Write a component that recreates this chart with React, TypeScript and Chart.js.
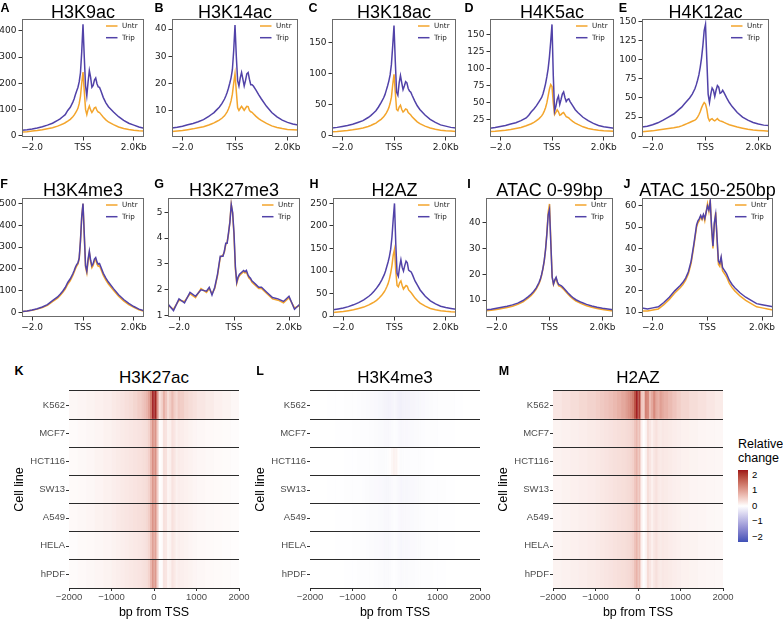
import React, { useEffect, useRef } from 'react';
import { Chart, registerables } from 'chart.js';

Chart.register(...registerables);

// ---------------- DATA ----------------
const LINE_X = [-2400, -2200, -2000, -1800, -1600, -1400, -1200, -1000, -900, -800, -700, -600, -500, -400, -350, -300, -250, -200, -150, -100, -50, 0, 50, 100, 150, 200, 250, 300, 350, 400, 450, 500, 550, 600, 650, 700, 800, 900, 1000, 1200, 1400, 1600, 1800, 2000, 2200, 2400];
const X_TICK_VALUES = [-2000, 0, 2000];
const X_TICK_LABELS = ['\u22122.0', 'TSS', '2.0Kb'];
const SERIES_NAMES = ['Untr', 'Trip'];

const A_UNTR = [14, 15, 17, 19, 22, 26, 30, 36, 40, 44, 49, 55, 62, 72, 78, 86, 94, 104, 122, 150, 200, 243, 170, 100, 80, 100, 113, 98, 88, 96, 106, 108, 96, 90, 88, 82, 70, 60, 52, 42, 33, 27, 23, 20, 18, 17];
const A_TRIP = [20, 22, 25, 29, 34, 40, 47, 58, 64, 72, 80, 96, 108, 128, 140, 156, 170, 184, 205, 240, 320, 425, 300, 190, 152, 205, 248, 222, 185, 192, 212, 220, 198, 186, 184, 172, 145, 125, 110, 90, 72, 58, 47, 40, 33, 28];
const B_UNTR = [2.2, 2.4, 2.6, 2.9, 3.2, 3.6, 4.0, 4.6, 5.0, 5.4, 5.9, 6.4, 7.1, 8.0, 8.7, 9.5, 10.5, 11.8, 13.5, 16, 20, 23.5, 17, 11, 10, 10.8, 11.5, 10.8, 10, 10.8, 11.5, 11.4, 10, 9.5, 9.3, 8.8, 7.8, 7.0, 6.3, 5.2, 4.3, 3.7, 3.3, 3.0, 2.9, 2.8];
const B_TRIP = [3.5, 3.8, 4.2, 4.7, 5.2, 5.8, 6.6, 7.8, 8.5, 9.2, 10.2, 11.2, 12.5, 14.2, 15.3, 16.6, 18.2, 20, 22, 25, 32, 41.5, 30, 21, 19, 22, 24, 21.5, 19, 21, 23.5, 24, 21.5, 19.5, 19.5, 19, 17.5, 15.8, 14.3, 11.5, 9.2, 7.6, 6.4, 5.6, 5, 4.6];
const C_UNTR = [6, 6.5, 7.2, 8, 9, 10.5, 12, 14.5, 16, 18, 20, 23, 26, 30, 33, 36, 40, 45, 52, 62, 82, 99, 70, 42, 40, 46, 49, 42, 38, 40, 43, 42, 37, 35, 33, 30, 26, 22, 19, 15, 12, 10, 8.5, 7.5, 7, 6.5];
const C_TRIP = [12, 13, 14.5, 16, 18, 21, 24, 29, 32, 36, 40, 46, 53, 61, 66, 73, 80, 88, 98, 115, 145, 178, 120, 70, 65, 85, 97, 85, 74, 80, 87, 85, 76, 72, 70, 65, 56, 48, 42, 33, 26, 21, 17, 15, 13, 12];
const D_UNTR = [8, 8.5, 9.2, 10, 11, 12.5, 14, 16.5, 18, 19.5, 21.5, 24, 27, 31, 34, 38, 43, 50, 60, 70, 77, 74, 50, 33, 36, 40, 37, 32, 33, 35, 36, 33, 30, 29, 28, 26, 23, 20.5, 18.5, 15, 12.5, 11, 10, 9.2, 8.8, 8.5];
const D_TRIP = [13, 14, 15.5, 17, 19, 21, 24, 28, 32, 37, 41, 46, 52, 58, 63, 70, 78, 88, 100, 117, 140, 165, 90, 38, 45, 55, 60, 48, 55, 63, 66, 58, 52, 55, 56, 52, 46, 40, 36, 29, 24, 20, 17, 15, 14, 13];
const E_UNTR = [6, 6.5, 7, 8, 9, 10, 11, 12.5, 13.5, 15, 16.5, 18, 19.5, 21, 22.5, 25, 28, 32, 37, 41, 44, 42, 35, 24, 20, 22, 23, 21, 20, 21.5, 23, 21, 20, 19.5, 19, 18, 16.5, 15, 14, 12, 10.5, 9, 8, 7.5, 7, 6.5];
const E_TRIP = [12, 13, 15, 17.5, 21, 25, 29, 35, 38, 42, 46, 50, 55, 62, 67, 73, 80, 90, 102, 118, 138, 146, 100, 55, 44, 55, 63, 60, 52, 60, 66, 64, 56, 57, 60, 57, 50, 44, 39, 31, 25, 21, 18, 16, 14.5, 14];
const F_UNTR = [4, 7, 11, 16, 23, 33, 50, 66, 78, 92, 108, 130, 147, 170, 185, 200, 213, 222, 245, 325, 438, 498, 352, 208, 182, 236, 274, 232, 206, 216, 236, 243, 222, 212, 214, 200, 170, 149, 131, 102, 75, 54, 37, 24, 13, 6];
const F_TRIP = [5, 8, 12, 18, 26, 37, 55, 72, 84, 98, 115, 138, 155, 178, 192, 208, 220, 228, 250, 330, 440, 500, 360, 215, 190, 245, 282, 240, 215, 225, 245, 252, 232, 222, 225, 210, 180, 158, 140, 110, 82, 60, 42, 28, 16, 8];
const G_UNTR = [1.4, 1.25, 1.6, 1.55, 1.85, 1.7, 2.05, 1.9, 2.05, 1.85, 2.05, 2.55, 3.25, 3.35, 3.45, 3.75, 3.85, 4.15, 4.65, 5.3, 4.95, 4.1, 2.8, 2.25, 2.45, 2.55, 2.6, 2.65, 2.7, 2.65, 2.7, 2.55, 2.45, 2.4, 2.3, 2.25, 2.15, 2.05, 2.05, 1.85, 1.65, 1.6, 1.5, 1.7, 1.3, 1.4];
const G_TRIP = [1.45, 1.2, 1.65, 1.5, 1.9, 1.75, 2.0, 1.95, 2.1, 1.8, 2.1, 2.6, 3.3, 3.3, 3.5, 3.8, 3.8, 4.2, 4.6, 5.3, 5.0, 4.2, 2.9, 2.3, 2.5, 2.6, 2.65, 2.7, 2.75, 2.7, 2.75, 2.6, 2.5, 2.45, 2.35, 2.3, 2.2, 2.1, 2.1, 1.9, 1.7, 1.65, 1.55, 1.75, 1.25, 1.45];
const H_UNTR = [8, 9, 10, 12, 14, 17, 20, 25, 28, 31, 35, 40, 46, 54, 59, 65, 72, 82, 95, 112, 135, 148, 100, 68, 65, 74, 78, 68, 60, 64, 68, 66, 58, 55, 52, 48, 40, 34, 29, 22, 17, 14, 12, 10.5, 9.5, 9];
const H_TRIP = [14, 16, 18, 21, 25, 30, 36, 44, 49, 55, 62, 70, 80, 92, 100, 110, 120, 132, 148, 175, 215, 250, 160, 95, 88, 110, 125, 108, 100, 112, 122, 118, 102, 100, 98, 92, 78, 68, 58, 44, 34, 27, 22, 19, 17, 15];
const I_UNTR = [5.8, 6, 6.3, 6.7, 7.1, 7.6, 8.3, 9.3, 10, 10.8, 11.7, 12.8, 14.2, 16.2, 17.6, 19.5, 22, 25, 29.5, 36, 44, 47.3, 33, 19, 16, 17.5, 18.5, 16.5, 15.5, 15.3, 15, 14.5, 14, 13.4, 12.8, 12.2, 11.2, 10.3, 9.6, 8.6, 7.8, 7.2, 6.7, 6.3, 6, 5.7];
const I_TRIP = [6.2, 6.4, 6.8, 7.2, 7.6, 8.1, 8.8, 9.8, 10.5, 11.3, 12.2, 13.3, 14.7, 16.7, 18, 19.8, 22.2, 25.2, 29.5, 35.5, 43, 45.2, 32, 19, 16.2, 17.8, 18.8, 17, 16, 15.8, 15.5, 15, 14.5, 13.9, 13.3, 12.7, 11.7, 10.8, 10.1, 9.1, 8.3, 7.7, 7.2, 6.8, 6.5, 6.2];
const J_UNTR = [10.5, 10.5, 11, 11.5, 13.5, 16, 19, 21.5, 23, 25, 28, 33, 41, 50, 52, 53, 55, 53.5, 55.5, 53, 57, 61, 57.5, 63, 49, 40, 51, 57, 44, 32.5, 31.5, 35, 29.5, 28.5, 27.5, 26.5, 23.5, 21.5, 20, 17.5, 15.5, 14, 12.5, 12, 11.5, 11];
const J_TRIP = [12, 11.5, 12, 12.5, 14.5, 17, 20, 22.5, 24, 26, 29, 34, 42, 51, 53, 54, 55.5, 54, 56, 54, 57, 60, 58, 62, 50, 41, 52, 56, 45, 34, 33, 36, 31, 30, 29, 28, 25, 23, 21.5, 19, 17, 15.5, 14, 13.5, 13, 12.5];

const A_YTICKS = [0, 100, 200, 300, 400];
const B_YTICKS = [10, 20, 30, 40];
const C_YTICKS = [0, 50, 100, 150];
const D_YTICKS = [25, 50, 75, 100, 125, 150];
const E_YTICKS = [0, 25, 50, 75, 100, 125, 150];
const F_YTICKS = [0, 100, 200, 300, 400, 500];
const G_YTICKS = [1, 2, 3, 4, 5];
const H_YTICKS = [0, 50, 100, 150, 200, 250];
const I_YTICKS = [10, 20, 30, 40];
const J_YTICKS = [10, 20, 30, 40, 50, 60];

// heatmaps
const CELL_LINES = ['K562', 'MCF7', 'HCT116', 'SW13', 'A549', 'HELA', 'hPDF'];
const HEAT_EDGES = [-2000, -1800, -1600, -1400, -1200, -1000, -900, -800, -700, -600, -500, -400, -300, -250, -200, -150, -100, -50, 0, 50, 100, 150, 200, 250, 300, 350, 400, 450, 500, 550, 600, 700, 800, 900, 1000, 1200, 1400, 1600, 1800, 2000];
const HEAT_XTICKS = [-2000, -1000, 0, 1000, 2000];
const LEGEND_BREAKS = [2, 1, 0, -1, -2];

const K_K562 = [0.08, 0.10, 0.12, 0.15, 0.18, 0.22, 0.25, 0.28, 0.32, 0.36, 0.42, 0.50, 0.58, 0.65, 0.75, 0.95, 1.40, 2.30, 2.20, 1.10, 0.30, 0.45, 0.80, 0.60, 0.35, 0.50, 0.70, 0.50, 0.40, 0.55, 0.50, 0.40, 0.35, 0.30, 0.25, 0.20, 0.15, 0.12, 0.08];
const K_MCF7 = [0.04, 0.06, 0.08, 0.10, 0.13, 0.16, 0.18, 0.20, 0.22, 0.24, 0.26, 0.28, 0.30, 0.32, 0.35, 0.45, 0.75, 1.20, 1.10, 0.50, 0.02, 0.05, 0.30, 0.28, 0.12, 0.15, 0.30, 0.25, 0.15, 0.20, 0.18, 0.15, 0.12, 0.10, 0.08, 0.06, 0.05, 0.04, 0.03];
const K_HCT116 = [0.05, 0.07, 0.09, 0.12, 0.15, 0.18, 0.20, 0.22, 0.24, 0.26, 0.28, 0.30, 0.32, 0.34, 0.38, 0.48, 0.80, 1.25, 1.15, 0.55, 0.00, 0.05, 0.32, 0.30, 0.12, 0.16, 0.32, 0.26, 0.16, 0.20, 0.18, 0.15, 0.13, 0.11, 0.09, 0.07, 0.05, 0.04, 0.03];
const K_SW13 = [0.05, 0.06, 0.08, 0.11, 0.14, 0.17, 0.19, 0.21, 0.23, 0.25, 0.27, 0.29, 0.31, 0.33, 0.36, 0.45, 0.72, 1.15, 1.05, 0.48, 0.00, 0.04, 0.28, 0.26, 0.10, 0.14, 0.28, 0.22, 0.14, 0.18, 0.16, 0.14, 0.12, 0.10, 0.08, 0.06, 0.05, 0.04, 0.03];
const K_A549 = [0.06, 0.08, 0.10, 0.13, 0.16, 0.19, 0.22, 0.24, 0.26, 0.28, 0.30, 0.32, 0.34, 0.36, 0.40, 0.50, 0.80, 1.20, 1.10, 0.52, 0.02, 0.06, 0.30, 0.28, 0.12, 0.15, 0.30, 0.24, 0.15, 0.19, 0.17, 0.15, 0.13, 0.11, 0.09, 0.07, 0.06, 0.05, 0.04];
const K_HELA = [0.03, 0.05, 0.06, 0.08, 0.10, 0.12, 0.14, 0.16, 0.18, 0.20, 0.22, 0.24, 0.26, 0.28, 0.31, 0.40, 0.68, 1.05, 0.95, 0.42, 0.00, 0.03, 0.24, 0.22, 0.08, 0.12, 0.25, 0.20, 0.12, 0.16, 0.14, 0.12, 0.10, 0.08, 0.06, 0.05, 0.04, 0.03, 0.02];
const K_HPDF = [0.04, 0.06, 0.08, 0.10, 0.12, 0.15, 0.17, 0.19, 0.21, 0.23, 0.25, 0.27, 0.29, 0.31, 0.34, 0.44, 0.75, 1.15, 1.05, 0.45, -0.02, 0.03, 0.28, 0.26, 0.10, 0.14, 0.28, 0.22, 0.14, 0.18, 0.16, 0.14, 0.12, 0.10, 0.08, 0.06, 0.05, 0.04, 0.03];

const L_K562 = [0.00, 0.00, -0.01, -0.01, -0.02, -0.03, -0.04, -0.05, -0.06, -0.07, -0.08, -0.10, -0.12, -0.13, -0.14, -0.14, -0.12, -0.10, -0.12, -0.16, -0.18, -0.16, -0.14, -0.15, -0.14, -0.12, -0.12, -0.11, -0.10, -0.09, -0.08, -0.06, -0.05, -0.04, -0.03, -0.02, -0.01, 0.00, 0.00];
const L_MCF7 = [0.00, 0.00, 0.00, -0.01, -0.01, -0.02, -0.02, -0.03, -0.03, -0.04, -0.05, -0.06, -0.07, -0.08, -0.08, -0.07, -0.05, -0.03, -0.04, -0.07, -0.09, -0.08, -0.07, -0.08, -0.07, -0.06, -0.06, -0.05, -0.05, -0.04, -0.04, -0.03, -0.02, -0.02, -0.01, -0.01, 0.00, 0.00, 0.00];
const L_HCT116 = [0.00, 0.00, 0.00, 0.00, -0.01, -0.01, -0.02, -0.02, -0.03, -0.03, -0.04, -0.05, -0.05, -0.04, -0.02, 0.02, 0.08, 0.15, 0.12, 0.02, -0.05, -0.04, -0.03, -0.04, -0.04, -0.03, -0.03, -0.03, -0.02, -0.02, -0.02, -0.01, -0.01, 0.00, 0.00, 0.00, 0.00, 0.00, 0.00];
const L_SW13 = [0.00, 0.00, -0.01, -0.01, -0.02, -0.03, -0.03, -0.04, -0.05, -0.06, -0.07, -0.08, -0.09, -0.10, -0.10, -0.09, -0.07, -0.05, -0.06, -0.09, -0.11, -0.10, -0.09, -0.10, -0.09, -0.08, -0.08, -0.07, -0.06, -0.05, -0.05, -0.04, -0.03, -0.02, -0.02, -0.01, 0.00, 0.00, 0.00];
const L_A549 = [0.00, 0.00, 0.00, -0.01, -0.01, -0.02, -0.02, -0.03, -0.04, -0.05, -0.05, -0.06, -0.07, -0.08, -0.08, -0.07, -0.05, -0.03, -0.04, -0.07, -0.08, -0.08, -0.07, -0.07, -0.07, -0.06, -0.06, -0.05, -0.05, -0.04, -0.04, -0.03, -0.02, -0.02, -0.01, -0.01, 0.00, 0.00, 0.00];
const L_HELA = [0.00, 0.00, 0.00, -0.01, -0.01, -0.02, -0.03, -0.03, -0.04, -0.05, -0.06, -0.07, -0.08, -0.09, -0.09, -0.08, -0.06, -0.04, -0.05, -0.08, -0.10, -0.09, -0.08, -0.09, -0.08, -0.07, -0.07, -0.06, -0.05, -0.05, -0.04, -0.03, -0.03, -0.02, -0.01, -0.01, 0.00, 0.00, 0.00];
const L_HPDF = [0.00, 0.00, 0.00, 0.00, -0.01, -0.01, -0.02, -0.02, -0.03, -0.03, -0.04, -0.05, -0.06, -0.06, -0.06, -0.05, -0.03, -0.01, -0.02, -0.05, -0.07, -0.06, -0.05, -0.06, -0.05, -0.05, -0.05, -0.04, -0.04, -0.03, -0.03, -0.02, -0.02, -0.01, -0.01, 0.00, 0.00, 0.00, 0.00];

const M_K562 = [0.25, 0.30, 0.35, 0.40, 0.45, 0.50, 0.55, 0.60, 0.65, 0.72, 0.80, 0.90, 1.00, 1.10, 1.20, 1.35, 1.80, 2.30, 2.00, 0.60, 0.50, 1.30, 1.20, 0.70, 0.90, 1.20, 0.90, 0.80, 1.00, 0.90, 0.80, 0.70, 0.60, 0.50, 0.42, 0.35, 0.30, 0.25, 0.20];
const M_MCF7 = [0.12, 0.14, 0.16, 0.18, 0.20, 0.22, 0.24, 0.26, 0.28, 0.30, 0.32, 0.34, 0.36, 0.38, 0.40, 0.45, 0.60, 0.75, 0.65, 0.15, 0.00, 0.10, 0.35, 0.25, 0.15, 0.25, 0.30, 0.22, 0.20, 0.24, 0.22, 0.20, 0.18, 0.16, 0.14, 0.12, 0.10, 0.09, 0.08];
const M_HCT116 = [0.13, 0.15, 0.17, 0.19, 0.21, 0.23, 0.25, 0.27, 0.29, 0.31, 0.33, 0.35, 0.37, 0.39, 0.42, 0.48, 0.64, 0.80, 0.68, 0.16, 0.00, 0.12, 0.36, 0.26, 0.16, 0.26, 0.31, 0.23, 0.21, 0.24, 0.22, 0.20, 0.18, 0.16, 0.14, 0.12, 0.11, 0.10, 0.09];
const M_SW13 = [0.11, 0.13, 0.15, 0.17, 0.19, 0.21, 0.23, 0.25, 0.27, 0.29, 0.31, 0.33, 0.35, 0.37, 0.39, 0.44, 0.58, 0.72, 0.62, 0.14, 0.00, 0.10, 0.33, 0.24, 0.14, 0.24, 0.29, 0.21, 0.19, 0.22, 0.20, 0.18, 0.16, 0.15, 0.13, 0.11, 0.10, 0.09, 0.08];
const M_A549 = [0.10, 0.12, 0.14, 0.16, 0.18, 0.20, 0.22, 0.24, 0.26, 0.28, 0.30, 0.32, 0.34, 0.36, 0.38, 0.43, 0.58, 0.72, 0.62, 0.14, 0.00, 0.10, 0.33, 0.24, 0.14, 0.24, 0.28, 0.21, 0.19, 0.22, 0.20, 0.18, 0.16, 0.14, 0.12, 0.11, 0.10, 0.08, 0.07];
const M_HELA = [0.11, 0.13, 0.15, 0.17, 0.19, 0.21, 0.23, 0.25, 0.27, 0.29, 0.31, 0.33, 0.35, 0.37, 0.40, 0.46, 0.62, 0.78, 0.66, 0.15, 0.00, 0.11, 0.35, 0.25, 0.15, 0.25, 0.30, 0.22, 0.20, 0.23, 0.21, 0.19, 0.17, 0.15, 0.13, 0.12, 0.10, 0.09, 0.08];
const M_HPDF = [0.12, 0.14, 0.16, 0.18, 0.20, 0.22, 0.24, 0.26, 0.28, 0.30, 0.32, 0.34, 0.36, 0.38, 0.41, 0.47, 0.65, 0.82, 0.70, 0.16, -0.02, 0.10, 0.36, 0.26, 0.15, 0.25, 0.31, 0.23, 0.20, 0.24, 0.22, 0.20, 0.18, 0.16, 0.14, 0.12, 0.10, 0.09, 0.08];

// ---------------- STYLE / LAYOUT ----------------
const UNTR_COLOR = '#F3A52C';
const TRIP_COLOR = '#5142A8';
const HIGH_RGB = [158, 20, 24];
const LOW_RGB = [62, 80, 182];
const COLOR_LIMIT = 2.3;

const LINE_PANELS = [
  { letter: 'A', title: 'H3K9ac', untr: A_UNTR, trip: A_TRIP, yticks: A_YTICKS, ymin: -5.5, ymax: 445.5, rect: [22, 19, 144, 137] },
  { letter: 'B', title: 'H3K14ac', untr: B_UNTR, trip: B_TRIP, yticks: B_YTICKS, ymin: 0.2, ymax: 43.7, rect: [172, 19, 298, 137] },
  { letter: 'C', title: 'H3K18ac', untr: C_UNTR, trip: C_TRIP, yticks: C_YTICKS, ymin: -2.6, ymax: 188.6, rect: [332, 19, 456, 137] },
  { letter: 'D', title: 'H4K5ac', untr: D_UNTR, trip: D_TRIP, yticks: D_YTICKS, ymin: 0.1, ymax: 172.9, rect: [490, 19, 614, 137] },
  { letter: 'E', title: 'H4K12ac', untr: E_UNTR, trip: E_TRIP, yticks: E_YTICKS, ymin: -1, ymax: 153, rect: [642, 19, 769, 137] },
  { letter: 'F', title: 'H3K4me3', untr: F_UNTR, trip: F_TRIP, yticks: F_YTICKS, ymin: -20, ymax: 525, rect: [22, 198, 144, 317] },
  { letter: 'G', title: 'H3K27me3', untr: G_UNTR, trip: G_TRIP, yticks: G_YTICKS, ymin: 0.95, ymax: 5.55, rect: [168, 198, 300, 317] },
  { letter: 'H', title: 'H2AZ', untr: H_UNTR, trip: H_TRIP, yticks: H_YTICKS, ymin: -2, ymax: 262, rect: [333, 198, 456, 317] },
  { letter: 'I', title: 'ATAC 0-99bp', untr: I_UNTR, trip: I_TRIP, yticks: I_YTICKS, ymin: 3.4, ymax: 49.6, rect: [486, 198, 613, 317] },
  { letter: 'J', title: 'ATAC 150-250bp', untr: J_UNTR, trip: J_TRIP, yticks: J_YTICKS, ymin: 7.7, ymax: 63.7, rect: [642, 198, 773, 317] },
];
const LETTER_POS = [[5, 8], [159, 8], [313, 8], [469, 8], [623, 8], [4, 184], [159, 184], [314, 184], [469, 184], [627, 184]];

const HEAT_PANELS = [
  { letter: 'K', title: 'H3K27ac', rows: [K_K562, K_MCF7, K_HCT116, K_SW13, K_A549, K_HELA, K_HPDF], rect: [69, 391, 239, 588], letterPos: [19, 371] },
  { letter: 'L', title: 'H3K4me3', rows: [L_K562, L_MCF7, L_HCT116, L_SW13, L_A549, L_HELA, L_HPDF], rect: [310, 391, 480, 588], letterPos: [260, 371] },
  { letter: 'M', title: 'H2AZ', rows: [M_K562, M_MCF7, M_HCT116, M_SW13, M_A549, M_HELA, M_HPDF], rect: [553, 391, 723, 588], letterPos: [504, 371] },
];

// ---------------- COLOR (Lab interpolation like ggplot) ----------------
function s2l(c: number) { c /= 255; return c <= 0.04045 ? c / 12.92 : Math.pow((c + 0.055) / 1.055, 2.4); }
function l2s(c: number) { const v = c <= 0.0031308 ? 12.92 * c : 1.055 * Math.pow(c, 1 / 2.4) - 0.055; return Math.round(Math.max(0, Math.min(1, v)) * 255); }
function rgbToLab(rgb: number[]) {
  const R = s2l(rgb[0]), G = s2l(rgb[1]), B = s2l(rgb[2]);
  const X = (0.4124 * R + 0.3576 * G + 0.1805 * B) / 0.95047;
  const Y = 0.2126 * R + 0.7152 * G + 0.0722 * B;
  const Z = (0.0193 * R + 0.1192 * G + 0.9505 * B) / 1.08883;
  const f = (t: number) => (t > 0.008856 ? Math.cbrt(t) : 7.787 * t + 16 / 116);
  const fx = f(X), fy = f(Y), fz = f(Z);
  return [116 * fy - 16, 500 * (fx - fy), 200 * (fy - fz)];
}
function labToRgb(lab: number[]) {
  const fy = (lab[0] + 16) / 116, fx = fy + lab[1] / 500, fz = fy - lab[2] / 200;
  const finv = (t: number) => (t * t * t > 0.008856 ? t * t * t : (t - 16 / 116) / 7.787);
  const X = finv(fx) * 0.95047, Y = finv(fy), Z = finv(fz) * 1.08883;
  const R = 3.2406 * X - 1.5372 * Y - 0.4986 * Z;
  const G = -0.9689 * X + 1.8758 * Y + 0.0415 * Z;
  const B = 0.0557 * X - 0.204 * Y + 1.057 * Z;
  return [l2s(R), l2s(G), l2s(B)];
}
const LAB_WHITE = rgbToLab([255, 255, 255]);
const LAB_HIGH = rgbToLab(HIGH_RGB);
const LAB_LOW = rgbToLab(LOW_RGB);
function heatColor(v: number) {
  const t = Math.max(-1, Math.min(1, v / COLOR_LIMIT));
  const target = t >= 0 ? LAB_HIGH : LAB_LOW;
  const a = Math.abs(t);
  const lab = LAB_WHITE.map((w, i) => w + (target[i] - w) * a);
  const c = labToRgb(lab);
  return `rgb(${c[0]},${c[1]},${c[2]})`;
}

// ---------------- PLUGINS ----------------
const boxPlugin = {
  id: 'boxFrame',
  afterDatasetsDraw(chart: any) {
    const { ctx, chartArea } = chart;
    ctx.save();
    ctx.strokeStyle = '#6b6b6b';
    ctx.lineWidth = 1;
    ctx.strokeRect(Math.round(chartArea.left) + 0.5, Math.round(chartArea.top) + 0.5,
      Math.round(chartArea.right - chartArea.left) - 1, Math.round(chartArea.bottom - chartArea.top) - 1);
    ctx.restore();
  },
};
const innerLegendPlugin = {
  id: 'innerLegend',
  afterDatasetsDraw(chart: any) {
    const { ctx, chartArea } = chart;
    ctx.save();
    ctx.font = '7.2px "DejaVu Sans"';
    ctx.textBaseline = 'middle';
    ctx.textAlign = 'left';
    chart.data.datasets.forEach((d: any, i: number) => {
      const y = chartArea.top + 7 + i * 11.7;
      const x0 = chartArea.right - 38;
      ctx.strokeStyle = d.borderColor;
      ctx.lineWidth = 1.5;
      ctx.beginPath();
      ctx.moveTo(x0, y);
      ctx.lineTo(x0 + 11.5, y);
      ctx.stroke();
      ctx.fillStyle = '#222';
      ctx.fillText(d.label, x0 + 16, y + 0.5);
    });
    ctx.restore();
  },
};
// short ggplot-style tick marks beside each cell-line label
const rowTickPlugin = {
  id: 'rowTicks',
  afterDraw(chart: any) {
    const { ctx, chartArea } = chart;
    const ys = chart.scales.y;
    ctx.save();
    ctx.strokeStyle = '#333';
    ctx.lineWidth = 1;
    chart.data.labels.forEach((_: any, i: number) => {
      const py = Math.round(ys.getPixelForValue(i)) + 0.5;
      ctx.beginPath();
      ctx.moveTo(chartArea.left - 3, py);
      ctx.lineTo(chartArea.left, py);
      ctx.stroke();
    });
    ctx.restore();
  },
};

const LINE_YW = 30;
const LINE_XH = 20;
const LINE_PAD = 6;

function LinePanel({ p }: { p: any }) {
  const ref = useRef<HTMLCanvasElement>(null);
  const [L, T, R, B] = p.rect;
  const w = LINE_YW + (R - L) + LINE_PAD;
  const h = LINE_PAD + (B - T) + LINE_XH;
  useEffect(() => {
    const chart = new Chart(ref.current as HTMLCanvasElement, {
      type: 'line',
      data: {
        datasets: [
          { label: SERIES_NAMES[0], data: LINE_X.map((x, i) => ({ x, y: p.untr[i] })), borderColor: UNTR_COLOR, borderWidth: 1.5, pointRadius: 0, order: 1, tension: 0 },
          { label: SERIES_NAMES[1], data: LINE_X.map((x, i) => ({ x, y: p.trip[i] })), borderColor: TRIP_COLOR, borderWidth: 1.5, pointRadius: 0, order: 0, tension: 0 },
        ],
      } as any,
      options: {
        animation: false,
        responsive: false,
        devicePixelRatio: 1,
        layout: { padding: { top: LINE_PAD, right: LINE_PAD, left: 0, bottom: 0 } },
        plugins: { legend: { display: false }, tooltip: { enabled: false } },
        scales: {
          x: {
            type: 'linear', min: -2400, max: 2400,
            afterBuildTicks: (s: any) => { s.ticks = X_TICK_VALUES.map((v) => ({ value: v })); },
            afterFit: (s: any) => { s.height = LINE_XH; s.paddingLeft = 0; s.paddingRight = 0; },
            ticks: {
              autoSkip: false, maxRotation: 0, padding: 2, color: '#222',
              font: { family: 'DejaVu Sans', size: 9 },
              callback: (v: any) => X_TICK_LABELS[X_TICK_VALUES.indexOf(Number(v))],
            },
            grid: { drawOnChartArea: false, drawTicks: true, tickLength: 3.5, color: '#333' },
            border: { display: false },
          },
          y: {
            type: 'linear', min: p.ymin, max: p.ymax,
            afterBuildTicks: (s: any) => { s.ticks = p.yticks.map((v: number) => ({ value: v })); },
            afterFit: (s: any) => { s.width = LINE_YW; s.paddingTop = 0; s.paddingBottom = 0; },
            ticks: {
              autoSkip: false, padding: 2, color: '#222',
              font: { family: 'DejaVu Sans', size: 9 },
              callback: (v: any) => String(v),
            },
            grid: { drawOnChartArea: false, drawTicks: true, tickLength: 3.5, color: '#333' },
            border: { display: false },
          },
        },
      } as any,
      plugins: [boxPlugin, innerLegendPlugin],
    });
    return () => chart.destroy();
  }, []);
  return <canvas ref={ref} width={w} height={h} style={{ position: 'absolute', left: L - LINE_YW, top: T - LINE_PAD, width: w, height: h }} />;
}

const HEAT_YW = 57;
const HEAT_XH = 32;
const HEAT_PAD_R = 14;
const HEAT_PAD_T = 2;
const HEAT_FONT = 'Liberation Sans';

function HeatPanel({ p }: { p: any }) {
  const ref = useRef<HTMLCanvasElement>(null);
  const [L, T, R, B] = p.rect;
  const w = HEAT_YW + (R - L) + HEAT_PAD_R;
  const h = HEAT_PAD_T + (B - T) + HEAT_XH;
  useEffect(() => {
    const datasets = HEAT_EDGES.slice(0, -1).map((e, j) => ({
      data: CELL_LINES.map(() => [HEAT_EDGES[j], HEAT_EDGES[j + 1]]),
      backgroundColor: p.rows.map((r: number[]) => heatColor(r[j])),
      borderWidth: 0,
      barPercentage: 1,
      categoryPercentage: 1,
      grouped: false,
    }));
    const chart = new Chart(ref.current as HTMLCanvasElement, {
      type: 'bar',
      data: { labels: CELL_LINES, datasets } as any,
      options: {
        indexAxis: 'y',
        animation: false,
        responsive: false,
        devicePixelRatio: 1,
        layout: { padding: { top: HEAT_PAD_T, right: HEAT_PAD_R, left: 0, bottom: 0 } },
        plugins: { legend: { display: false }, tooltip: { enabled: false } },
        scales: {
          x: {
            type: 'linear', min: -2000, max: 2000,
            afterBuildTicks: (s: any) => { s.ticks = HEAT_XTICKS.map((v) => ({ value: v })); },
            afterFit: (s: any) => { s.height = HEAT_XH; s.paddingLeft = 0; s.paddingRight = 0; },
            ticks: {
              autoSkip: false, maxRotation: 0, padding: 1, color: '#4D4D4D',
              font: { family: HEAT_FONT, size: 9.5 },
              callback: (v: any) => String(v).replace('-', '\u2212'),
            },
            grid: { drawOnChartArea: false, drawTicks: true, tickLength: 3, color: '#333' },
            border: { display: true, color: '#2a2a2a', width: 1, z: 1 },
            title: { display: true, text: 'bp from TSS', color: '#000', font: { family: HEAT_FONT, size: 12.5 }, padding: 0 },
          },
          y: {
            type: 'category', offset: true,
            afterFit: (s: any) => { s.width = HEAT_YW; s.paddingTop = 0; s.paddingBottom = 0; },
            ticks: { padding: 4, color: '#4D4D4D', font: { family: HEAT_FONT, size: 9.5 } },
            grid: { drawOnChartArea: true, offset: true, drawTicks: false, color: '#2a2a2a', lineWidth: 1, z: 1 },
            border: { display: false },
            title: { display: true, text: 'Cell line', color: '#000', font: { family: HEAT_FONT, size: 12.5 }, padding: 0 },
          },
        },
      } as any,
      plugins: [rowTickPlugin],
    });
    return () => chart.destroy();
  }, []);
  return <canvas ref={ref} width={w} height={h} style={{ position: 'absolute', left: L - HEAT_YW, top: T - HEAT_PAD_T, width: w, height: h }} />;
}

function Text({ x, y, children, size, bold, family, color }: any) {
  return (
    <div style={{
      position: 'absolute', left: x, top: y, transform: 'translate(-50%, -50%)', whiteSpace: 'nowrap',
      fontFamily: family || 'Liberation Sans', fontSize: size, fontWeight: bold ? 700 : 400, lineHeight: 1, color: color || '#000',
    }}>{children}</div>
  );
}

function ColorLegend() {
  const stops: string[] = [];
  for (let i = 0; i <= 40; i++) {
    const v = COLOR_LIMIT - (2 * COLOR_LIMIT * i) / 40;
    stops.push(`${heatColor(v)} ${(i / 40) * 100}%`);
  }
  const top = 470, height = 72, zeroY = 505.7, perUnit = 15.5;
  return (
    <>
      <div style={{ position: 'absolute', left: 738, top: 438, fontFamily: HEAT_FONT, fontSize: 12.5, lineHeight: '13.5px', color: '#000' }}>Relative<br />change</div>
      <div style={{ position: 'absolute', left: 738, top, width: 10, height, background: `linear-gradient(to bottom, ${stops.join(', ')})` }} />
      {LEGEND_BREAKS.map((b) => (
        <div key={b} style={{ position: 'absolute', left: 752, top: zeroY - b * perUnit, transform: 'translateY(-50%)', fontFamily: HEAT_FONT, fontSize: 9.5, lineHeight: 1, color: '#000' }}>
          {String(b).replace('-', '\u2212')}
        </div>
      ))}
    </>
  );
}

export default function App() {
  return (
    <div style={{ position: 'absolute', left: 0, top: 0, width: 783, height: 619, overflow: 'hidden', background: '#fff' }}>
      {LINE_PANELS.map((p, i) => (
        <React.Fragment key={p.letter}>
          <LinePanel p={p} />
          <Text x={(p.rect[0] + p.rect[2]) / 2} y={i < 5 ? 12 : 190} size={18}>{p.title}</Text>
          <Text x={LETTER_POS[i][0]} y={LETTER_POS[i][1]} size={12.5} bold>{p.letter}</Text>
        </React.Fragment>
      ))}
      {HEAT_PANELS.map((p) => (
        <React.Fragment key={p.letter}>
          <HeatPanel p={p} />
          <Text x={(p.rect[0] + p.rect[2]) / 2} y={377} size={17}>{p.title}</Text>
          <Text x={p.letterPos[0]} y={p.letterPos[1]} size={12.5} bold>{p.letter}</Text>
        </React.Fragment>
      ))}
      <ColorLegend />
    </div>
  );
}
